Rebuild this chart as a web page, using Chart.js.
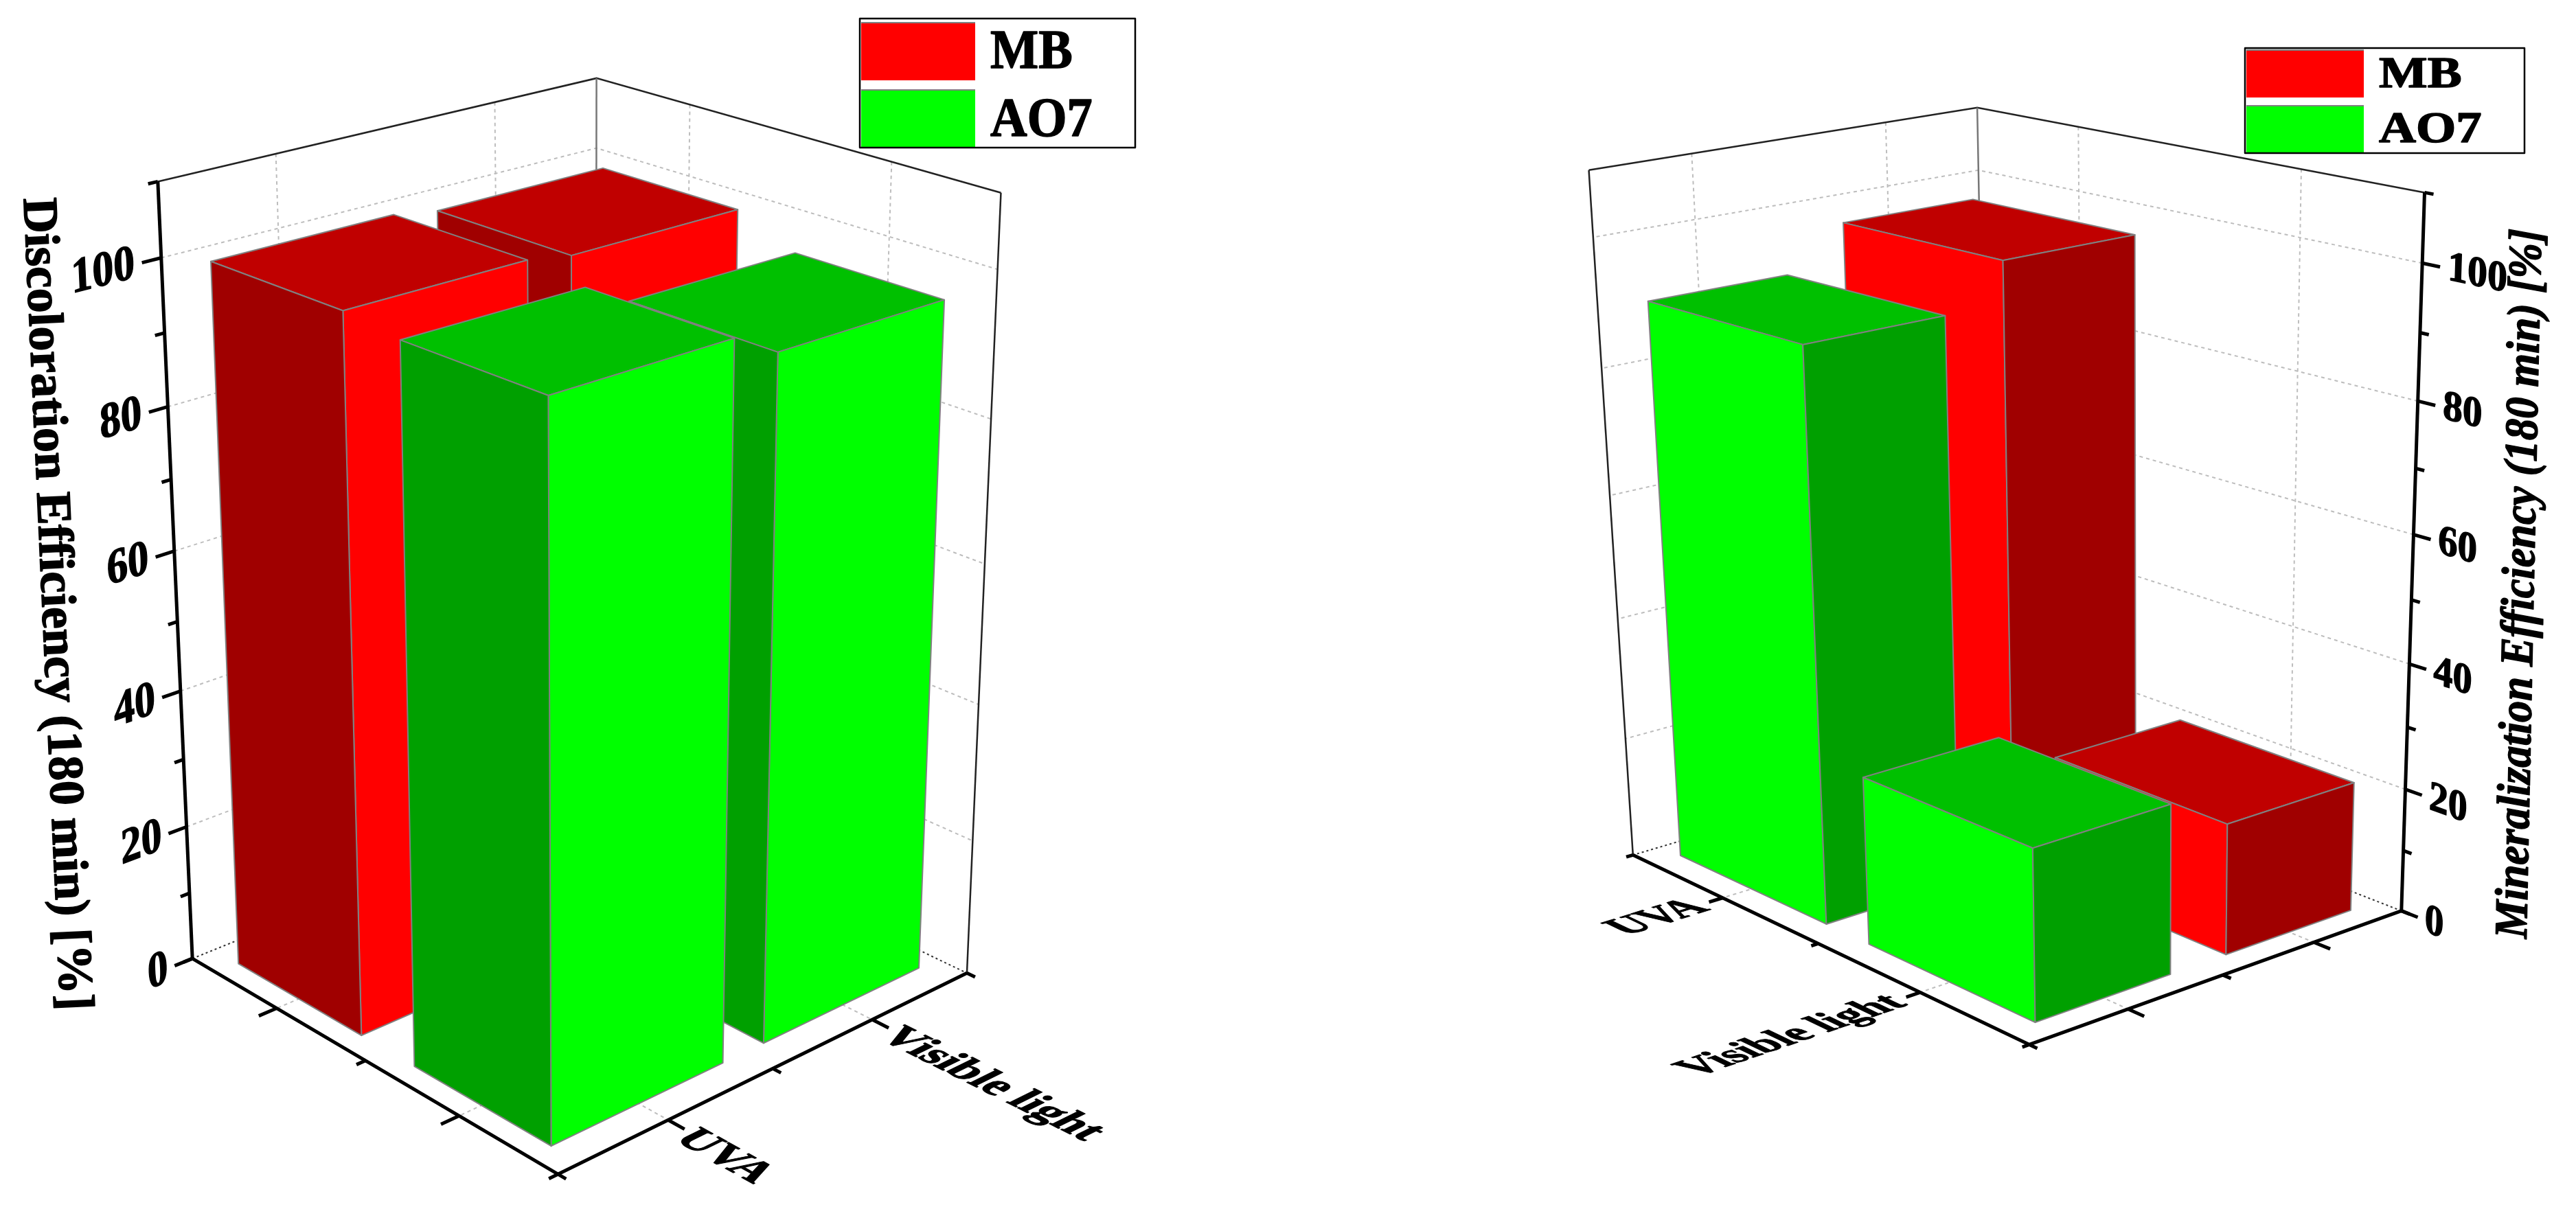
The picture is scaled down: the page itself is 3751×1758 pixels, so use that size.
<!DOCTYPE html>
<html>
<head>
<meta charset="utf-8">
<title>Discoloration and mineralization efficiency</title>
<script src="https://cdn.jsdelivr.net/npm/chart.js@4/dist/chart.umd.js"></script>
<style>
  body { margin: 0; background: #fff; }
  #wrap { display: flex; width: 3751px; height: 1758px; }
  canvas { display: block; }
</style>
</head>
<body>
<div id="wrap">
  <canvas id="discoloration" width="1875" height="1758"></canvas>
  <canvas id="mineralization" width="1876" height="1758"></canvas>
</div>
<script>
const categories = ['UVA', 'Visible light'];
const seriesNames = ['MB', 'AO7'];
const discolorationMB = [100, 99];
const discolorationAO7 = [99, 95.5];
const mineralizationMB = [96.8, 21];
const mineralizationAO7 = [90.3, 27];
const valueMax = 110;
const valueStep = 10;
const valueLabelStep = 20;

const FONT = '"Liberation Serif"';
const COLORS = {
  MB: { front: '#FF0000', side: '#A00000', top: '#C00000' },
  AO7: { front: '#00FF00', side: '#00A000', top: '#00C000' }
};

// Least squares camera: [category, series, height] -> canvas pixel, fitted on the box frame
function fitCamera(anchors) {
  const rows = [];
  const rhs = [];
  anchors.forEach(([c, s, h, px, py]) => {
    const x = px / 1000;
    const y = py / 1000;
    rows.push([c, s, h, 1, 0, 0, 0, 0, -x * c, -x * s, -x * h]);
    rhs.push(x);
    rows.push([0, 0, 0, 0, c, s, h, 1, -y * c, -y * s, -y * h]);
    rhs.push(y);
  });
  const n = 11;
  const a = [];
  for (let i = 0; i < n; i++) {
    a.push([]);
    for (let j = 0; j < n; j++) {
      a[i].push(rows.reduce((sum, r) => sum + r[i] * r[j], 0));
    }
    a[i].push(rows.reduce((sum, r, k) => sum + r[i] * rhs[k], 0));
  }
  for (let i = 0; i < n; i++) {
    let best = i;
    for (let k = i + 1; k < n; k++) {
      if (Math.abs(a[k][i]) > Math.abs(a[best][i])) best = k;
    }
    [a[i], a[best]] = [a[best], a[i]];
    for (let k = 0; k < n; k++) {
      if (k === i) continue;
      const f = a[k][i] / a[i][i];
      for (let j = i; j <= n; j++) a[k][j] -= f * a[i][j];
    }
  }
  const m = a.map((row, i) => row[n] / row[i]);
  return (c, s, h) => {
    const w = m[8] * c + m[9] * s + m[10] * h + 1;
    return [
      1000 * (m[0] * c + m[1] * s + m[2] * h + m[3]) / w,
      1000 * (m[4] * c + m[5] * s + m[6] * h + m[7]) / w
    ];
  };
}

function polyline(ctx, pts) {
  ctx.beginPath();
  pts.forEach((p, i) => (i ? ctx.lineTo(p[0], p[1]) : ctx.moveTo(p[0], p[1])));
}

function strokeLine(ctx, pts, color, width, dash) {
  polyline(ctx, pts);
  ctx.strokeStyle = color;
  ctx.lineWidth = width;
  ctx.setLineDash(dash || []);
  ctx.stroke();
  ctx.setLineDash([]);
}

// the reference text is heavier than plain bold, so it gets a thin outline too
function heavyText(ctx, text, maxWidth) {
  ctx.fillStyle = '#000';
  ctx.strokeStyle = '#000';
  ctx.lineWidth = 1.5;
  ctx.lineJoin = 'round';
  ctx.fillText(text, 0, 0, maxWidth);
  ctx.strokeText(text, 0, 0, maxWidth);
}

// text laid on a plane of the box: base and up are the pixel directions of its own x and y
function planeText(ctx, text, at, base, up, font, align) {
  const bl = Math.hypot(base[0], base[1]);
  const ul = Math.hypot(up[0], up[1]);
  ctx.save();
  ctx.transform(base[0] / bl * font.stretch, base[1] / bl * font.stretch, -up[0] / ul, -up[1] / ul, at[0], at[1]);
  ctx.font = font.css;
  ctx.textAlign = align;
  ctx.textBaseline = 'middle';
  heavyText(ctx, text);
  ctx.restore();
}

function drawBox(ctx, project, view, cA, cB, sA, sB, h, colors) {
  const sideC = view.frontCat ? cB : cA;
  const faces = [
    { fill: colors.top, pts: [[cA, sA], [cB, sA], [cB, sB], [cA, sB]].map(p => project(p[0], p[1], h)) },
    { fill: colors.front, pts: [project(cA, sB, 0), project(cB, sB, 0), project(cB, sB, h), project(cA, sB, h)] },
    { fill: colors.side, pts: [project(sideC, sA, 0), project(sideC, sB, 0), project(sideC, sB, h), project(sideC, sA, h)] }
  ];
  faces.forEach(face => {
    polyline(ctx, face.pts);
    ctx.closePath();
    ctx.fillStyle = face.fill;
    ctx.fill();
    ctx.strokeStyle = '#808080';
    ctx.lineWidth = 2;
    ctx.lineJoin = 'round';
    ctx.stroke();
  });
}

function drawFrame(chart, view, project) {
  const ctx = chart.ctx;
  const yScale = chart.scales.y;
  const xScale = chart.scales.x;
  const sScale = chart.scales.xSeries;
  const wallC = view.frontCat ? 0 : 1;
  const axisC = view.frontCat ? 1 : 0;
  const dec = (scale, v) => scale.getDecimalForPixel(scale.getPixelForValue(v));
  const catDecs = xScale.ticks.map(t => dec(xScale, t.value));
  const serDecs = sScale.ticks.map(t => dec(sScale, t.value));
  const GRID = '#bdbdbd';
  const DASH = [5, 5];

  // walls and floor grid
  yScale.ticks.forEach(t => {
    if (t.value === 0 || t.value === valueMax || t.value % valueLabelStep) return;
    const h = dec(yScale, t.value);
    strokeLine(ctx, [project(axisC, 0, h), project(wallC, 0, h), project(wallC, 1, h)], GRID, 2, DASH);
  });
  catDecs.forEach(c => {
    strokeLine(ctx, [project(c, 0, 1), project(c, 0, 0), project(c, 1, 0)], GRID, 2, DASH);
  });
  serDecs.forEach(s => {
    strokeLine(ctx, [project(wallC, s, 1), project(wallC, s, 0), project(axisC, s, 0)], GRID, 2, DASH);
  });
  strokeLine(ctx, [project(axisC, 0, 0), project(wallC, 0, 0), project(wallC, 1, 0)], '#333', 2, [3, 4]);

  // thin outline of the walls
  strokeLine(ctx, [project(axisC, 0, 1), project(wallC, 0, 1), project(wallC, 1, 1)], '#222', 2.5);
  strokeLine(ctx, [project(wallC, 0, 1), project(wallC, 0, 0)], '#777', 2.5);
  strokeLine(ctx, [project(wallC, 1, 1), project(wallC, 1, 0)], '#222', 2.5);
}

function drawAxes(chart, view, project) {
  const ctx = chart.ctx;
  const yScale = chart.scales.y;
  const xScale = chart.scales.x;
  const sScale = chart.scales.xSeries;
  const axisC = view.frontCat ? 1 : 0;
  const out = view.frontCat ? 1 : -1;
  const dec = (scale, v) => scale.getDecimalForPixel(scale.getPixelForValue(v));

  // value axis
  strokeLine(ctx, [project(axisC, 0, 0), project(axisC, 0, 1)], '#000', 5);
  yScale.ticks.forEach(t => {
    const h = dec(yScale, t.value);
    const isMajor = t.label !== '';
    const from = project(axisC, 0, h);
    const to = project(axisC + out * (isMajor ? view.tick : view.tick / 2), 0, h);
    strokeLine(ctx, [from, to], '#000', 5);
    if (isMajor) {
      const at = project(axisC + out * view.labelGap, 0, h);
      const base = [to[0] - from[0], to[1] - from[1]].map(v => v * out);
      const p = project(axisC, 0, h + 0.1);
      planeText(ctx, t.label, at, base, [p[0] - from[0], p[1] - from[1]], view.valueFont, view.frontCat ? 'left' : 'right');
    }
  });

  // floor axes
  strokeLine(ctx, [project(0, 1, 0), project(1, 1, 0)], '#000', 5);
  strokeLine(ctx, [project(axisC, 0, 0), project(axisC, 1, 0)], '#000', 5);
  [0, 0.5, 1].forEach(d => {
    strokeLine(ctx, [project(d, 1, 0), project(d, 1 + view.tick / 2, 0)], '#000', 5);
    strokeLine(ctx, [project(axisC, d, 0), project(axisC + out * view.tick / 2, d, 0)], '#000', 5);
  });
  sScale.ticks.forEach(t => {
    const s = dec(sScale, t.value);
    strokeLine(ctx, [project(axisC, s, 0), project(axisC + out * view.tick, s, 0)], '#000', 5);
  });
  xScale.ticks.forEach(t => {
    const c = dec(xScale, t.value);
    strokeLine(ctx, [project(c, 1, 0), project(c, 1 + view.tick, 0)], '#000', 5);
    const at = project(c + view.catShift, 1 + view.catGap, 0);
    const sDir = project(c, 1.2, 0);
    const cDir = project(c + 0.1, 1, 0);
    const from = project(c, 1, 0);
    const sign = view.frontCat ? -1 : 1;
    const base = [(sDir[0] - from[0]) * sign, (sDir[1] - from[1]) * sign];
    const up = [(cDir[0] - from[0]) * sign, (cDir[1] - from[1]) * sign];
    planeText(ctx, t.label, at, base, up, view.catFont, view.frontCat ? 'right' : 'left');
  });

  // axis title
  const title = view.title;
  ctx.save();
  ctx.translate(title.x, title.y);
  ctx.rotate(title.angle * Math.PI / 180);
  ctx.font = title.css;
  ctx.textAlign = 'center';
  ctx.textBaseline = 'middle';
  heavyText(ctx, yScale.options.title.text, title.length);
  ctx.restore();
}

function drawLegend(chart, view) {
  const ctx = chart.ctx;
  const lg = view.legend;
  chart.data.datasets.forEach((ds, i) => {
    const row = lg.rows[i];
    ctx.fillStyle = ds.backgroundColor;
    ctx.fillRect(lg.swatchX, row[0], lg.swatchW, row[1] - row[0]);
    strokeLine(ctx, [[lg.swatchX, row[0]], [lg.swatchX + lg.swatchW, row[0]]], '#808080', 2);
    ctx.save();
    ctx.translate(lg.textX, row[2]);
    ctx.scale(lg.stretch, 1);
    ctx.font = lg.css;
    ctx.textAlign = 'left';
    ctx.textBaseline = 'alphabetic';
    heavyText(ctx, ds.label);
    ctx.restore();
  });
  ctx.strokeStyle = '#000';
  ctx.lineWidth = 2.5;
  ctx.strokeRect(lg.box[0], lg.box[1], lg.box[2], lg.box[3]);
}

function makeChart(id, view, mb, ao7, yTitle) {
  const project = fitCamera(view.anchors);
  const box3d = {
    id: 'box3d',
    beforeDatasetsDraw(chart) {
      const ctx = chart.ctx;
      const xScale = chart.scales.x;
      const yScale = chart.scales.y;
      const sScale = chart.scales.xSeries;
      const dec = (scale, v) => scale.getDecimalForPixel(scale.getPixelForValue(v));
      const band = 1 / categories.length;
      const order = view.frontCat ? [0, 1] : [1, 0];
      ctx.save();
      ctx.translate(-view.offsetX, 0);
      drawFrame(chart, view, project);
      chart.data.datasets.forEach(ds => {
        const s = dec(sScale, seriesNames.indexOf(ds.label));
        order.forEach(i => {
          const c = dec(xScale, i);
          const halfC = band * ds.categoryPercentage / 2;
          const halfS = band * ds.barPercentage / 2;
          const h = dec(yScale, ds.data[i]);
          drawBox(ctx, project, view, c - halfC, c + halfC, s - halfS, s + halfS, h, COLORS[ds.label]);
        });
      });
      drawAxes(chart, view, project);
      drawLegend(chart, view);
      ctx.restore();
      return false;
    }
  };
  const dataset = (name, data) => ({
    label: name,
    data,
    backgroundColor: COLORS[name].front,
    categoryPercentage: view.barC,
    barPercentage: view.barS
  });
  return new Chart(document.getElementById(id), {
    type: 'bar',
    data: { labels: categories, datasets: [dataset('MB', mb), dataset('AO7', ao7)] },
    plugins: [box3d],
    options: {
      responsive: false,
      animation: false,
      plugins: { legend: { display: false }, tooltip: { enabled: false } },
      scales: {
        x: { type: 'category', labels: categories, offset: true, display: false, ticks: { autoSkip: false } },
        xSeries: { axis: 'x', type: 'category', labels: seriesNames, offset: true, display: false, ticks: { autoSkip: false } },
        y: {
          min: 0,
          max: valueMax,
          display: false,
          title: { text: yTitle },
          ticks: {
            stepSize: valueStep,
            autoSkip: false,
            callback: v => (v % valueLabelStep === 0 ? String(v) : '')
          }
        }
      }
    }
  });
}

const frameLeft = [
  [0, 1, 0, 813, 1708], [1, 1, 0, 1406, 1420], [0, 0, 0, 280, 1395], [1, 0, 0, 871, 1155],
  [1, 1, 1, 1459, 280], [0, 0, 1, 233, 263], [1, 0, 1, 865, 115],
  [0, 0, 100 / 110, 235, 376], [0, 0, 80 / 110, 245, 592], [0, 0, 60 / 110, 253, 802],
  [0, 0, 40 / 110, 261, 1008], [0, 0, 20 / 110, 270, 1208]
];
const frameRight = [
  [0, 1, 0, 2381, 1250], [1, 1, 0, 2953, 1518], [1, 0, 0, 3499, 1326], [0, 0, 0, 2892, 1088],
  [0, 1, 1, 2312, 246], [0, 0, 1, 2883, 158], [1, 0, 1, 3528, 280],
  [1, 0, 100 / 110, 3525, 382], [1, 0, 80 / 110, 3521, 585], [1, 0, 60 / 110, 3516, 780],
  [1, 0, 40 / 110, 3509, 967], [1, 0, 20 / 110, 3504, 1153]
];

makeChart('discoloration', {
  offsetX: 0,
  frontCat: 0,
  anchors: frameLeft,
  barC: 0.8,
  barS: 0.71,
  tick: 0.04,
  labelGap: 0.055,
  catGap: 0.05,
  catShift: -0.012,
  valueFont: { css: 'bold 72px ' + FONT, stretch: 0.88 },
  catFont: { css: 'bold 66px ' + FONT, stretch: 1 },
  title: { x: 80, y: 880, angle: 87.4, css: 'bold 72px ' + FONT, length: 1185 },
  legend: {
    box: [1252, 27, 401, 188], swatchX: 1254, swatchW: 166,
    rows: [[33, 117, 99], [131, 215, 198]],
    textX: 1442, stretch: 0.93, css: 'bold 80px ' + FONT
  }
}, discolorationMB, discolorationAO7, 'Discoloration Efficiency (180 min) [%]');

makeChart('mineralization', {
  offsetX: 1875,
  frontCat: 1,
  anchors: frameRight,
  barC: 0.785,
  barS: 0.7,
  tick: 0.035,
  labelGap: 0.05,
  catGap: 0.055,
  catShift: 0,
  valueFont: { css: 'bold 62px ' + FONT, stretch: 0.95 },
  catFont: { css: 'bold 64px ' + FONT, stretch: 1 },
  title: { x: 3672, y: 850, angle: -88.8, css: 'italic bold 68px ' + FONT, length: 1034 },
  legend: {
    box: [3269, 70, 407, 153], swatchX: 3271, swatchW: 171,
    rows: [[73, 142, 127], [154, 223, 207]],
    textX: 3464, stretch: 1.17, css: 'bold 64px ' + FONT
  }
}, mineralizationMB, mineralizationAO7, 'Mineralization Efficiency (180 min) [%]');
</script>
</body>
</html>
